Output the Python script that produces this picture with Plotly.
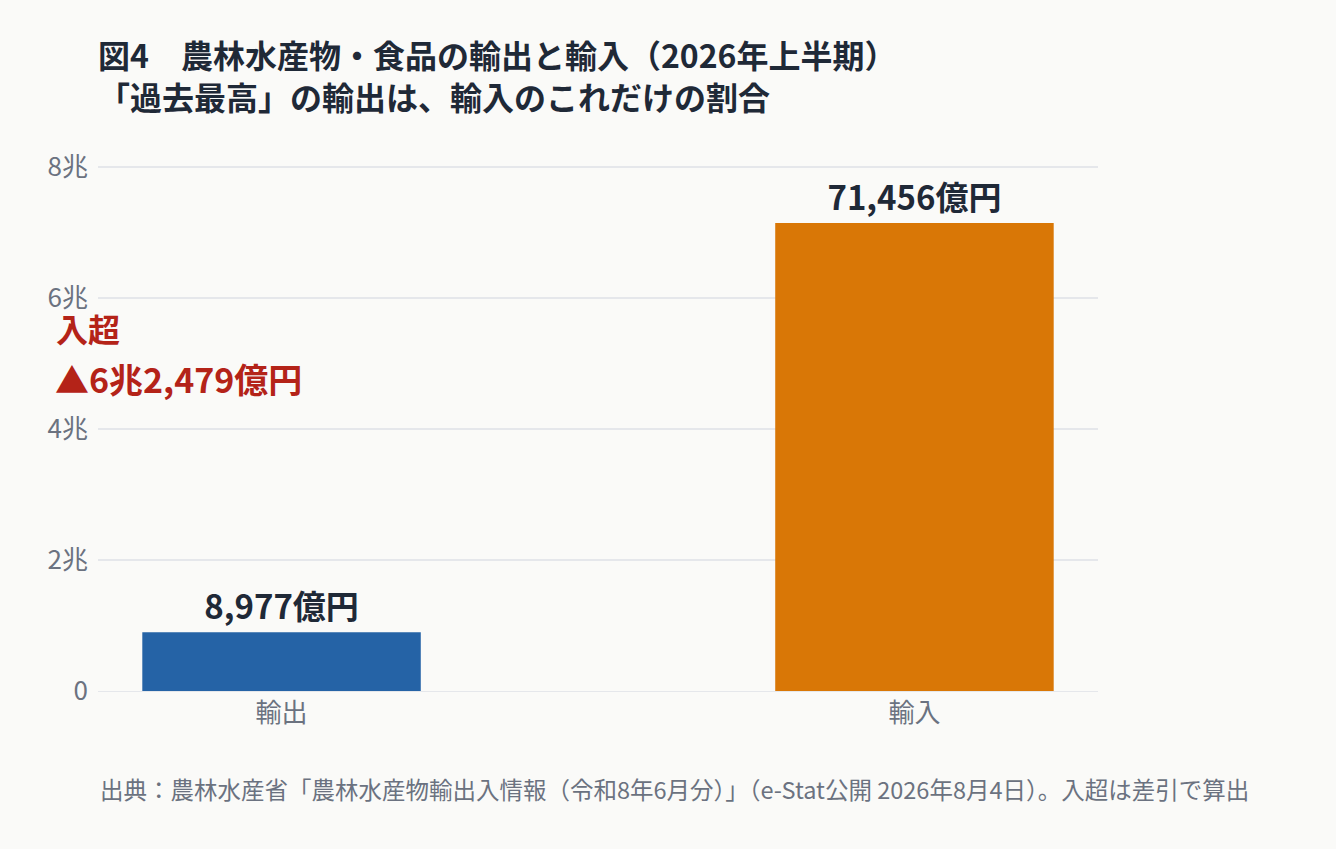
import plotly.graph_objects as go

# 単位：億円
categories = ['輸出', '輸入']
values = [8977, 71456]
bar_labels = ['8,977億円', '71,456億円']
colors = ['#2563a6', '#d97706']

tick_vals = [0, 20000, 40000, 60000, 80000]
tick_text = ['0', '2兆', '4兆', '6兆', '8兆']

gap_label = '▲6兆2,479億円'

font_family = 'Noto Sans CJK JP'
dark = '#1f2937'
gray = '#6b7280'
red = '#b42318'
bg = '#fafaf8'

fig = go.Figure()

fig.add_trace(go.Bar(
    x=categories,
    y=values,
    width=0.44,
    marker=dict(color=colors, line=dict(width=0)),
    text=bar_labels,
    textposition='outside',
    textfont=dict(size=33, color=dark, family=font_family, weight='bold'),
    cliponaxis=False,
    hoverinfo='skip',
))

fig.update_layout(
    width=1336,
    height=849,
    autosize=False,
    margin=dict(t=165, b=158, l=98, r=238),
    paper_bgcolor=bg,
    plot_bgcolor=bg,
    font=dict(family=font_family, color=gray),
    showlegend=False,
    title=dict(
        text='図4　農林水産物・食品の輸出と輸入（2026年上半期）<br>「過去最高」の輸出は、輸入のこれだけの割合',
        x=0, xref='paper', xanchor='left',
        y=0.92, yanchor='top',
        font=dict(size=32, color=dark, family=font_family, weight='bold'),
    ),
)

fig.update_xaxes(
    range=[-0.29, 1.29],
    showgrid=False,
    showline=False,
    ticks='',
    ticklabelstandoff=4,
    tickfont=dict(size=26, color=gray),
)
fig.update_yaxes(
    range=[0, 80300],
    tickvals=tick_vals,
    ticktext=tick_text,
    tickfont=dict(size=26, color=gray),
    ticklabelstandoff=9,
    gridcolor='#e5e7eb',
    gridwidth=2,
    zeroline=True,
    zerolinecolor='#e5e7eb',
    zerolinewidth=1,
    showline=False,
    ticks='',
)

fig.add_annotation(
    text='入超', xref='paper', yref='paper',
    x=-0.044, y=0.69, xanchor='left', yanchor='middle',
    showarrow=False,
    font=dict(size=32, color=red, family=font_family, weight='bold'),
)
fig.add_annotation(
    text=gap_label, xref='paper', yref='paper',
    x=-0.045, y=0.595, xanchor='left', yanchor='middle',
    showarrow=False,
    font=dict(size=34, color=red, family=font_family, weight='bold'),
)
fig.add_annotation(
    text='出典：農林水産省「農林水産物輸出入情報（令和8年6月分）」（e-Stat公開 2026年8月4日）。入超は差引で算出',
    xref='paper', yref='paper',
    x=0, y=-0.186, xanchor='left', yanchor='middle',
    showarrow=False,
    font=dict(size=23.5, color=gray, family=font_family),
)

fig.write_html(
    'out.html',
    config={'displayModeBar': False},
    post_script="document.body.style.margin='0';document.body.style.background='%s';" % bg,
)
